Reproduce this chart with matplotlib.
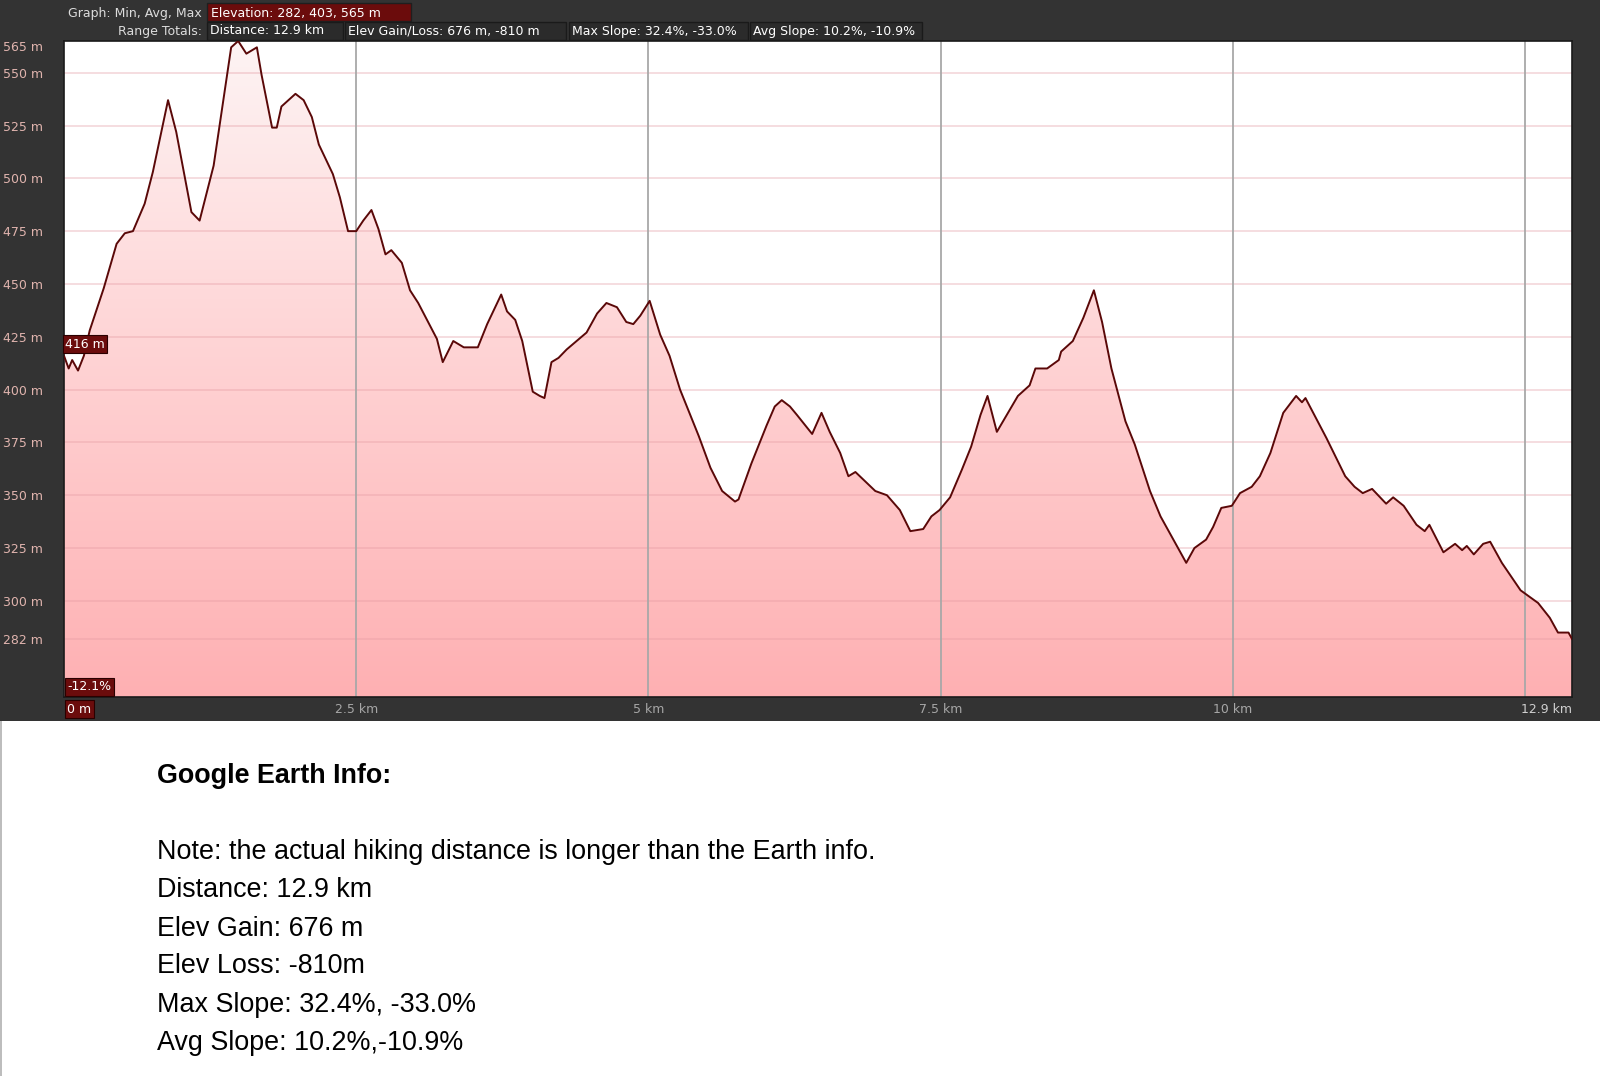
import matplotlib
matplotlib.use("Agg")
import matplotlib.pyplot as plt
import numpy as np
from matplotlib.patches import Rectangle, Polygon
from matplotlib.transforms import blended_transform_factory

# elevation profile (km, m)
dist_km = [0.00, 0.04, 0.07, 0.12, 0.17, 0.22, 0.34, 0.45, 0.52, 0.59, 0.69, 0.76, 0.89, 0.96,
           1.09, 1.16, 1.28, 1.43, 1.49, 1.56, 1.65, 1.69, 1.78, 1.82, 1.86, 1.98, 2.05, 2.12,
           2.18, 2.30, 2.36, 2.43, 2.50, 2.56, 2.63, 2.69, 2.75, 2.80, 2.89, 2.96, 3.03, 3.19,
           3.24, 3.33, 3.42, 3.54, 3.62, 3.74, 3.79, 3.86, 3.92, 4.01, 4.07, 4.11, 4.17, 4.23,
           4.30, 4.47, 4.56, 4.64, 4.73, 4.81, 4.87, 4.93, 5.01, 5.10, 5.18, 5.27, 5.43, 5.53,
           5.63, 5.74, 5.77, 5.88, 6.01, 6.08, 6.14, 6.21, 6.27, 6.40, 6.48, 6.55, 6.64, 6.71,
           6.77, 6.94, 7.04, 7.15, 7.24, 7.35, 7.42, 7.49, 7.58, 7.68, 7.76, 7.84, 7.90, 7.98,
           8.16, 8.26, 8.31, 8.41, 8.51, 8.53, 8.63, 8.72, 8.81, 8.88, 8.96, 9.08, 9.16, 9.29,
           9.38, 9.49, 9.60, 9.67, 9.77, 9.83, 9.90, 9.99, 10.06, 10.16, 10.23, 10.32, 10.43,
           10.54, 10.59, 10.62, 10.80, 10.96, 11.04, 11.11, 11.19, 11.31, 11.37, 11.46, 11.57,
           11.64, 11.68, 11.80, 11.90, 11.96, 12.00, 12.06, 12.14, 12.20, 12.30, 12.46, 12.61,
           12.71, 12.78, 12.87, 12.90]
elev_m = [416, 410, 414, 409, 416, 428, 448, 469, 474, 475, 488, 503, 537, 522,
          484, 480, 506, 562, 565, 559, 562, 549, 524, 524, 534, 540, 537, 529,
          516, 502, 491, 475, 475, 480, 485, 476, 464, 466, 460, 447, 441, 424,
          413, 423, 420, 420, 431, 445, 437, 433, 423, 399, 397, 396, 413, 415,
          419, 427, 436, 441, 439, 432, 431, 435, 442, 426, 416, 400, 378, 363,
          352, 347, 348, 365, 383, 392, 395, 392, 388, 379, 389, 380, 370, 359,
          361, 352, 350, 343, 333, 334, 340, 343, 349, 362, 373, 388, 397, 380,
          397, 402, 410, 410, 414, 418, 423, 434, 447, 432, 410, 385, 374, 352,
          340, 329, 318, 325, 329, 335, 344, 345, 351, 354, 359, 370, 389,
          397, 394, 396, 377, 359, 354, 351, 353, 346, 349, 345, 336,
          333, 336, 323, 327, 324, 326, 322, 327, 328, 318, 305, 299,
          292, 285, 285, 282]

y_ticks = [282, 300, 325, 350, 375, 400, 425, 450, 475, 500, 525, 550, 565]
x_ticks = [2.5, 5, 7.5, 10]
x_labels = ["2.5 km", "5 km", "7.5 km", "10 km"]
x_grid = [2.5, 5, 7.5, 10, 12.5]

header_graph = "Elevation: 282, 403, 565 m"
header_totals = ["Distance: 12.9 km", "Elev Gain/Loss: 676 m, -810 m",
                 "Max Slope: 32.4%, -33.0%", "Avg Slope: 10.2%, -10.9%"]

info_title = "Google Earth Info:"
info_lines = ["Note: the actual hiking distance is longer than the Earth info.",
              "Distance: 12.9 km",
              "Elev Gain: 676 m",
              "Elev Loss: -810m",
              "Max Slope: 32.4%, -33.0%",
              "Avg Slope: 10.2%,-10.9%"]

W, H = 1600, 1076
fig = plt.figure(figsize=(W / 100, H / 100), dpi=100, facecolor="white")

def fx(px):
    return px / W

def fy(py):
    return 1 - py / H

DARK = "#333333"
MAROON = "#6b0c0c"
FS = 9

# dark panel behind the graph
fig.patches.append(Rectangle((0, fy(721)), 1, 1 - fy(721), transform=fig.transFigure,
                             facecolor=DARK, edgecolor="none", zorder=-2))
fig.patches.append(Rectangle((0, 0), fx(2), fy(721), transform=fig.transFigure,
                             facecolor="#bdbdbd", edgecolor="none", zorder=-2))

ax = fig.add_axes([fx(64), fy(697), fx(1572 - 64), fy(41) - fy(697)])
ax.set_zorder(2)
ax.set_xlim(0, 12.9)
ax.set_ylim(254.5, 565)
ax.set_facecolor("white")

x = np.array(dist_km)
y = np.array(elev_m)

# gradient fill under the profile
grad = np.linspace(0, 1, 256).reshape(-1, 1)
top_c = np.array([0.995, 0.955, 0.955])
bot_c = np.array([1.0, 0.69, 0.70])
img = (top_c + (bot_c - top_c) * grad).reshape(256, 1, 3)
im = ax.imshow(img, extent=[0, 12.9, 254.5, 565], aspect="auto", origin="upper", zorder=1)
poly = Polygon(np.column_stack([np.r_[x, x[-1], x[0]], np.r_[y, 254.5, 254.5]]),
               closed=True, facecolor="none", edgecolor="none")
ax.add_patch(poly)
im.set_clip_path(poly)

for t in y_ticks[:-1]:
    ax.axhline(t, color="#e39aa2", alpha=0.4, lw=1.2, zorder=2)
for g in x_grid:
    ax.axvline(g, color="#a8a8a8", lw=1.3, zorder=2)

ax.plot(x, y, color="#5a0808", lw=1.4, zorder=3)

ax.set_yticks(y_ticks)
ax.set_yticklabels([f"{t} m" for t in y_ticks], color="#e0b4ae", fontsize=FS)
ax.tick_params(axis="y", length=0, pad=15)
ax.get_yticklabels()[-1].set_va("top")
ax.set_xticks([])
for s in ax.spines.values():
    s.set_color("#1a1a1a")
    s.set_linewidth(1.2)

trans = blended_transform_factory(ax.transData, ax.transAxes)
for xt, lab in zip(x_ticks, x_labels):
    ax.text(xt, -0.019, lab, transform=trans, ha="center", va="center",
            color="#a6a6a6", fontsize=FS)
ax.text(12.9, -0.019, "12.9 km", transform=trans, ha="right", va="center",
        color="#cfcfcf", fontsize=FS)

box = dict(boxstyle="square,pad=0.2", facecolor=MAROON, edgecolor="#2a0000", lw=0.8)
ax.text(0.002, -0.019, "0 m", transform=ax.transAxes, ha="left", va="center",
        color="white", fontsize=FS, bbox=box, clip_on=False)
ax.text(0.002, 0.006, "-12.1%", transform=ax.transAxes, ha="left", va="bottom",
        color="white", fontsize=FS, bbox=box, zorder=5)
ax.text(dist_km[0] + 0.01, elev_m[0] + 2.5, "416 m", transform=ax.transData,
        ha="left", va="bottom", color="white", fontsize=FS, bbox=box, zorder=5)

# header rows
fig.text(fx(202), fy(13), "Graph: Min, Avg, Max", ha="right", va="center",
         color="#dcdcdc", fontsize=FS)
fig.patches.append(Rectangle((fx(207), fy(21)), fx(411 - 207), fy(3) - fy(21),
                             transform=fig.transFigure, facecolor=MAROON,
                             edgecolor="#1f1f1f", lw=1))
fig.text(fx(211), fy(13), header_graph, ha="left", va="center", color="white", fontsize=FS)

fig.text(fx(202), fy(31), "Range Totals:", ha="right", va="center",
         color="#dcdcdc", fontsize=FS)
box_x = [(207, 343), (345, 566), (569, 748), (750, 922)]
for (x0, x1), lab in zip(box_x, header_totals):
    fig.patches.append(Rectangle((fx(x0), fy(40)), fx(x1 - x0), fy(22) - fy(40),
                                 transform=fig.transFigure, facecolor="#2b2b2b",
                                 edgecolor="#1a1a1a", lw=1))
    fig.text(fx(x0 + 3), fy(31), lab, ha="left", va="center", color="white", fontsize=FS)

# info block below the graph
fig.text(fx(157), fy(776), info_title, ha="left", va="center", fontsize=19.4,
         fontweight="bold", family="Liberation Sans", color="black")
line_y = [852, 890, 929, 966, 1005, 1043]
for yy, line in zip(line_y, info_lines):
    fig.text(fx(157), fy(yy), line, ha="left", va="center", fontsize=19.4,
             family="Liberation Sans", color="black")

fig.savefig("out.png", dpi=100, facecolor=fig.get_facecolor())
